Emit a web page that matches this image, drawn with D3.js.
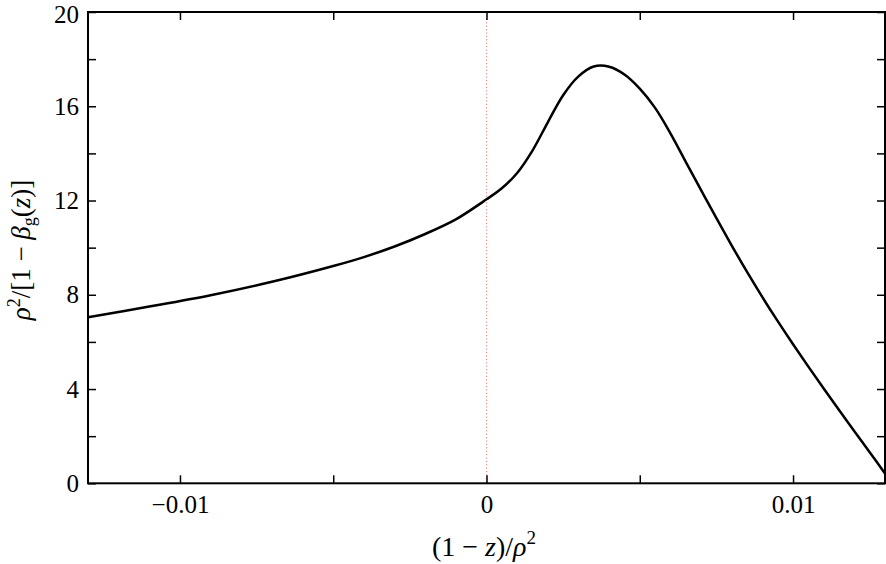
<!DOCTYPE html>
<html><head><meta charset="utf-8">
<script src="https://cdn.jsdelivr.net/npm/d3@7"></script>
<style>body{margin:0;background:#fff}svg{display:block}</style>
</head><body><svg id="c" width="886" height="564"></svg>
<script>
const xVals = [-0.013,-0.011,-0.009,-0.007,-0.005,-0.004,-0.003,-0.002,-0.001,0,0.0005,0.001,0.0015,0.002,0.0025,0.003,0.0035,0.004,0.0045,0.005,0.0055,0.006,0.0065,0.007,0.0075,0.008,0.0085,0.009,0.0095,0.01,0.0105,0.011,0.0115,0.012,0.0125,0.013];
const yVals = [7.05,7.5,7.98,8.55,9.22,9.6,10.05,10.58,11.2,12.05,12.52,13.17,14.12,15.32,16.47,17.27,17.69,17.68,17.35,16.75,15.93,14.85,13.64,12.44,11.25,10.09,8.97,7.9,6.88,5.9,4.95,4.02,3.11,2.21,1.32,0.42];
const xTicks = [-0.01,-0.005,0,0.005,0.01];
const xTickLabels = ["\u22120.01","","0","","0.01"];
const yTicks = [0,2,4,6,8,10,12,14,16,18,20];
const yTickLabels = ["0","","4","","8","","12","","16","","20"];

const svg = d3.select("#c");
const L=88,R=885,T=12,B=483.3;
const x = d3.scaleLinear().domain([-0.013,0.013]).range([L,R]);
const y = d3.scaleLinear().domain([0,20]).range([B,T]);
const FONT = "Liberation Serif, Times New Roman, serif";

svg.append("line").attr("x1",x(0)).attr("x2",x(0)).attr("y1",T).attr("y2",B)
  .attr("stroke","#ff7f7f").attr("stroke-width",1).attr("stroke-dasharray","1.2,2.2");

const tl=8;
const xb = d3.axisBottom(x).tickValues(xTicks).tickSizeInner(-tl).tickSizeOuter(0).tickFormat((d,i)=>xTickLabels[i]);
const xt = d3.axisTop(x).tickValues(xTicks).tickSizeInner(-tl).tickSizeOuter(0).tickFormat("");
const yl = d3.axisLeft(y).tickValues(yTicks).tickSizeInner(-tl).tickSizeOuter(0).tickPadding(9).tickFormat((d,i)=>yTickLabels[i]);
const yr = d3.axisRight(y).tickValues(yTicks).tickSizeInner(-tl).tickSizeOuter(0).tickFormat("");
function style(g){g.attr("font-family",FONT).attr("font-size",25);g.select(".domain").remove();g.selectAll("line").attr("stroke","#000").attr("stroke-width",1.5);g.selectAll("text").attr("fill","#000");}
svg.append("g").attr("transform",`translate(0,${B})`).call(xb).call(style)
  .selectAll("text").attr("y",30).attr("dy",0);
svg.append("g").attr("transform",`translate(${L},0)`).call(yl).call(style)
  .selectAll("text").filter(d=>d===20).attr("dy","0.42em");
svg.append("g").attr("transform",`translate(0,${T})`).call(xt).call(style);
svg.append("g").attr("transform",`translate(${R},0)`).call(yr).call(style);

svg.append("rect").attr("x",L).attr("y",T).attr("width",R-L).attr("height",B-T)
  .attr("fill","none").attr("stroke","#000").attr("stroke-width",2);

const data = xVals.map((v,i)=>[v,yVals[i]]);
svg.append("path").datum(data).attr("fill","none").attr("stroke","#000").attr("stroke-width",2.5)
  .attr("stroke-linejoin","round")
  .attr("d",d3.line().x(d=>x(d[0])).y(d=>y(d[1])).curve(d3.curveCatmullRom.alpha(0.5)));

const xl = svg.append("text").attr("x",484).attr("y",556).attr("text-anchor","middle")
  .attr("font-family",FONT).attr("font-size",28).attr("fill","#000");
xl.append("tspan").text("(1 \u2212 ");
xl.append("tspan").attr("font-style","italic").text("z");
xl.append("tspan").text(")/");
xl.append("tspan").attr("font-style","italic").text("\u03c1");
xl.append("tspan").attr("dy",-12).attr("font-size",19).text("2");

const ylab = svg.append("text").attr("transform","translate(30,250) rotate(-90)").attr("text-anchor","middle")
  .attr("font-family",FONT).attr("font-size",27).attr("fill","#000");
ylab.append("tspan").attr("font-style","italic").text("\u03c1");
ylab.append("tspan").attr("dy",-10).attr("font-size",18).text("2");
ylab.append("tspan").attr("dy",10).text("/[1 \u2212 ");
ylab.append("tspan").attr("font-style","italic").text("\u03b2");
ylab.append("tspan").attr("dy",5).attr("font-size",18).text("g");
ylab.append("tspan").attr("dy",-5).text("(");
ylab.append("tspan").attr("font-style","italic").text("z");
ylab.append("tspan").text(")]");
</script></body></html>
